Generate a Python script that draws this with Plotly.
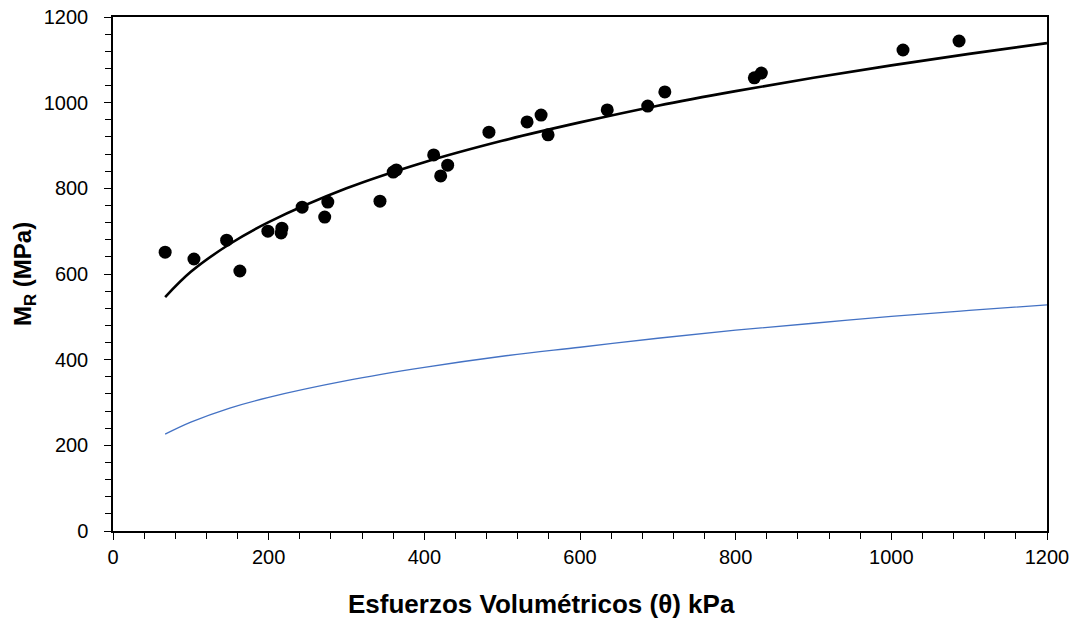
import plotly.graph_objects as go

# Measured data points (theta kPa, MR MPa)
theta_pts = [67, 104, 146, 163, 199, 216, 217, 243, 272, 276, 343, 360, 364,
             412, 421, 430, 483, 532, 550, 559, 635, 687, 709, 824, 833, 1015, 1087]
mr_pts = [651, 635, 679, 607, 700, 696, 707, 756, 733, 768, 770, 838, 843,
          878, 829, 854, 931, 955, 971, 925, 983, 992, 1025, 1058, 1069, 1123, 1144]

# Fitted model curve
theta_fit = [67, 100, 150, 200, 300, 400, 500, 600, 700, 800, 900, 1000, 1100, 1200]
mr_fit = [546, 605, 670, 721, 800, 861, 911, 954, 993, 1027, 1058, 1087, 1114, 1139]

# Second (blue) curve
theta_blue = [67, 100, 150, 200, 300, 400, 500, 600, 700, 800, 900, 1000, 1100, 1200]
mr_blue = [226, 254, 287, 312, 351, 382, 408, 429, 450, 469, 485, 501, 515, 528]

x_ticks = [0, 200, 400, 600, 800, 1000, 1200]
y_ticks = [0, 200, 400, 600, 800, 1000, 1200]

FONT = "Liberation Sans, Arial, sans-serif"

fig = go.Figure()
fig.add_trace(go.Scatter(x=theta_blue, y=mr_blue, mode="lines", line=dict(color="#4472C4", width=1.3, shape="spline"),
                         showlegend=False, hoverinfo="skip"))
fig.add_trace(go.Scatter(x=theta_fit, y=mr_fit, mode="lines", line=dict(color="black", width=2.6, shape="spline"),
                         showlegend=False))
fig.add_trace(go.Scatter(x=theta_pts, y=mr_pts, mode="markers", marker=dict(color="black", size=13),
                         showlegend=False))

fig.update_layout(
    width=1078, height=620,
    margin=dict(l=113, r=31, t=17, b=89),
    paper_bgcolor="white", plot_bgcolor="white",
    font=dict(family=FONT, color="black"),
    annotations=[
        dict(text="<b>Esfuerzos Volumétricos (θ) kPa</b>", xref="paper", yref="paper",
             x=(541 - 113) / 934, y=(531 - 604) / 514, xanchor="center", yanchor="middle",
             showarrow=False, font=dict(size=26, family=FONT, color="black")),
        dict(text="<b>M<sub>R</sub> (MPa)</b>", xref="paper", yref="paper",
             x=(24 - 113) / 934, y=(531 - 274) / 514, xanchor="center", yanchor="middle",
             textangle=-90, showarrow=False, font=dict(size=24, family=FONT, color="black")),
    ],
)
fig.update_xaxes(
    range=[0, 1200], tickvals=x_ticks, ticktext=[str(v) for v in x_ticks], automargin=False,
    showgrid=False, zeroline=False, showline=True, linecolor="black", linewidth=1.5, mirror=True,
    ticks="outside", ticklen=7, tickwidth=1.2, tickcolor="black",
    minor=dict(dtick=40, ticks="outside", ticklen=6, tickwidth=1, tickcolor="black"),
    tickfont=dict(size=20, family=FONT),
)
fig.update_yaxes(
    range=[0, 1200], tickvals=y_ticks, ticktext=[str(v) for v in y_ticks], automargin=False,
    showgrid=False, zeroline=False, showline=True, linecolor="black", linewidth=1.5, mirror=True,
    ticks="outside", ticklen=7, tickwidth=1.2, tickcolor="black",
    minor=dict(dtick=40, ticks="outside", ticklen=6, tickwidth=1, tickcolor="black"),
    tickfont=dict(size=20, family=FONT), ticklabelstandoff=12,
)

fig.write_html("out.html")
